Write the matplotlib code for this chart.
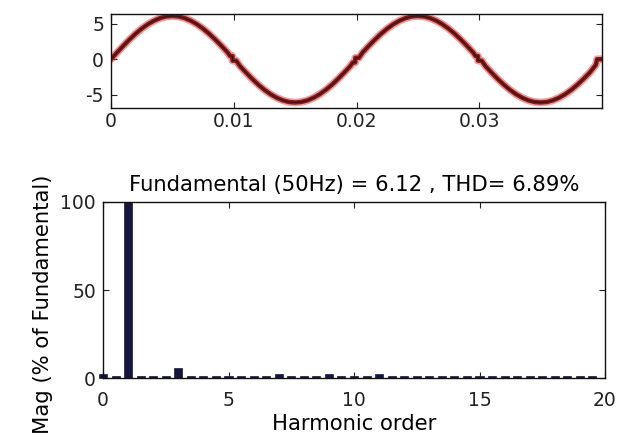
import matplotlib
matplotlib.use("Agg")
import matplotlib.pyplot as plt

plt.rcParams['font.family'] = ['DejaVu Sans']

# ---- top: time signal ----
sig_t = [0.0000, 0.0005, 0.0010, 0.0015, 0.0020, 0.0025, 0.0030, 0.0035, 0.0040, 0.0045,
         0.0050, 0.0055, 0.0060, 0.0065, 0.0070, 0.0075, 0.0080, 0.0085, 0.0090, 0.0095,
         0.0097, 0.0099, 0.0099, 0.0102,
         0.0105, 0.0110, 0.0115, 0.0120, 0.0125, 0.0130, 0.0135, 0.0140, 0.0145,
         0.0150, 0.0155, 0.0160, 0.0165, 0.0170, 0.0175, 0.0180, 0.0185, 0.0190, 0.0195,
         0.0197, 0.0199, 0.0199, 0.0202,
         0.0205, 0.0210, 0.0215, 0.0220, 0.0225, 0.0230, 0.0235, 0.0240, 0.0245,
         0.0250, 0.0255, 0.0260, 0.0265, 0.0270, 0.0275, 0.0280, 0.0285, 0.0290, 0.0295,
         0.0297, 0.0299, 0.0299, 0.0302,
         0.0305, 0.0310, 0.0315, 0.0320, 0.0325, 0.0330, 0.0335, 0.0340, 0.0345,
         0.0350, 0.0355, 0.0360, 0.0365, 0.0370, 0.0375, 0.0380, 0.0385, 0.0390, 0.0395,
         0.0396, 0.0400]
sig_v = [0.00, 0.96, 1.89, 2.78, 3.60, 4.33, 4.95, 5.45, 5.82, 6.05,
         6.12, 6.05, 5.82, 5.45, 4.95, 4.33, 3.60, 2.78, 1.89, 0.96,
         0.45, 0.45, -0.20, -0.20,
         -0.96, -1.89, -2.78, -3.60, -4.33, -4.95, -5.45, -5.82, -6.05,
         -6.12, -6.05, -5.82, -5.45, -4.95, -4.33, -3.60, -2.78, -1.89, -0.96,
         -0.45, -0.45, 0.20, 0.20,
         0.96, 1.89, 2.78, 3.60, 4.33, 4.95, 5.45, 5.82, 6.05,
         6.12, 6.05, 5.82, 5.45, 4.95, 4.33, 3.60, 2.78, 1.89, 0.96,
         0.45, 0.45, -0.20, -0.20,
         -0.96, -1.89, -2.78, -3.60, -4.33, -4.95, -5.45, -5.82, -6.05,
         -6.12, -6.05, -5.82, -5.45, -4.95, -4.33, -3.60, -2.78, -1.89, -0.80,
         0.00, 0.00]

top_xticks = [0, 0.01, 0.02, 0.03]
top_xticklabels = ['0', '0.01', '0.02', '0.03']
top_yticks = [-5, 0, 5]

# ---- bottom: harmonic spectrum (bins every 0.5 order) ----
harm_order = [i * 0.5 for i in range(40)]
harm_mag = [2.0, 1.2, 100.0, 1.2, 1.2, 1.2, 5.5, 1.2, 1.2, 1.2,
            1.2, 1.2, 1.2, 1.2, 2.2, 1.2, 1.2, 1.2, 2.2, 1.2,
            1.2, 1.2, 2.2, 1.2, 1.2, 1.2, 1.4, 1.2, 1.2, 1.2,
            1.2, 1.2, 1.2, 1.2, 1.2, 1.2, 1.2, 1.2, 1.2, 1.2]
bot_xticks = [0, 5, 10, 15, 20]
bot_yticks = [0, 50, 100]
title_text = 'Fundamental (50Hz) = 6.12 , THD= 6.89%'

W, H = 626, 445
fig = plt.figure(figsize=(W / 100, H / 100), dpi=100)
fs = 13.5
fl = 15.2

ax1 = fig.add_axes([111 / W, 1 - 108 / H, (602 - 111) / W, (108 - 14) / H])
ax1.plot(sig_t, sig_v, color='#e03a3a', lw=5.5, alpha=0.5, solid_capstyle='round')
ax1.plot(sig_t, sig_v, color='#8b1a1a', lw=3.2)
ax1.plot(sig_t, sig_v, color='#3a1010', lw=0.9)
ax1.set_xlim(0, 0.04)
ax1.set_ylim(-6.9, 6.4)
ax1.set_xticks(top_xticks)
ax1.set_xticklabels(top_xticklabels)
ax1.set_yticks(top_yticks)
ax1.set_yticklabels(['-5', '0', '5'])

ax2 = fig.add_axes([103 / W, 1 - 378 / H, (605 - 103) / W, (378 - 202) / H])
ax2.bar(harm_order, harm_mag, width=0.32, color='#15153d', edgecolor='#15153d', lw=0.5, clip_on=False)
ax2.set_xlim(0, 20)
ax2.set_ylim(0, 100)
ax2.set_xticks(bot_xticks)
ax2.set_yticks(bot_yticks)
ax2.set_title(title_text, fontsize=fl, pad=8)
ax2.set_xlabel('Harmonic order', fontsize=fl, labelpad=3)
ax2.set_ylabel('Mag (% of Fundamental)', fontsize=fl)
ax2.yaxis.set_label_coords(-0.10, 0.42)

ax1.tick_params(axis='x', pad=3)
ax2.tick_params(axis='x', pad=9)
for ax in (ax1, ax2):
    ax.tick_params(direction='in', top=True, right=True, length=4, width=0.8,
                   labelsize=fs, colors='#222222')
    ax.tick_params(axis='y', pad=5)
    for s in ax.spines.values():
        s.set_linewidth(1.0)
        s.set_color('#111111')

fig.savefig('out.png', dpi=100, facecolor='white')
